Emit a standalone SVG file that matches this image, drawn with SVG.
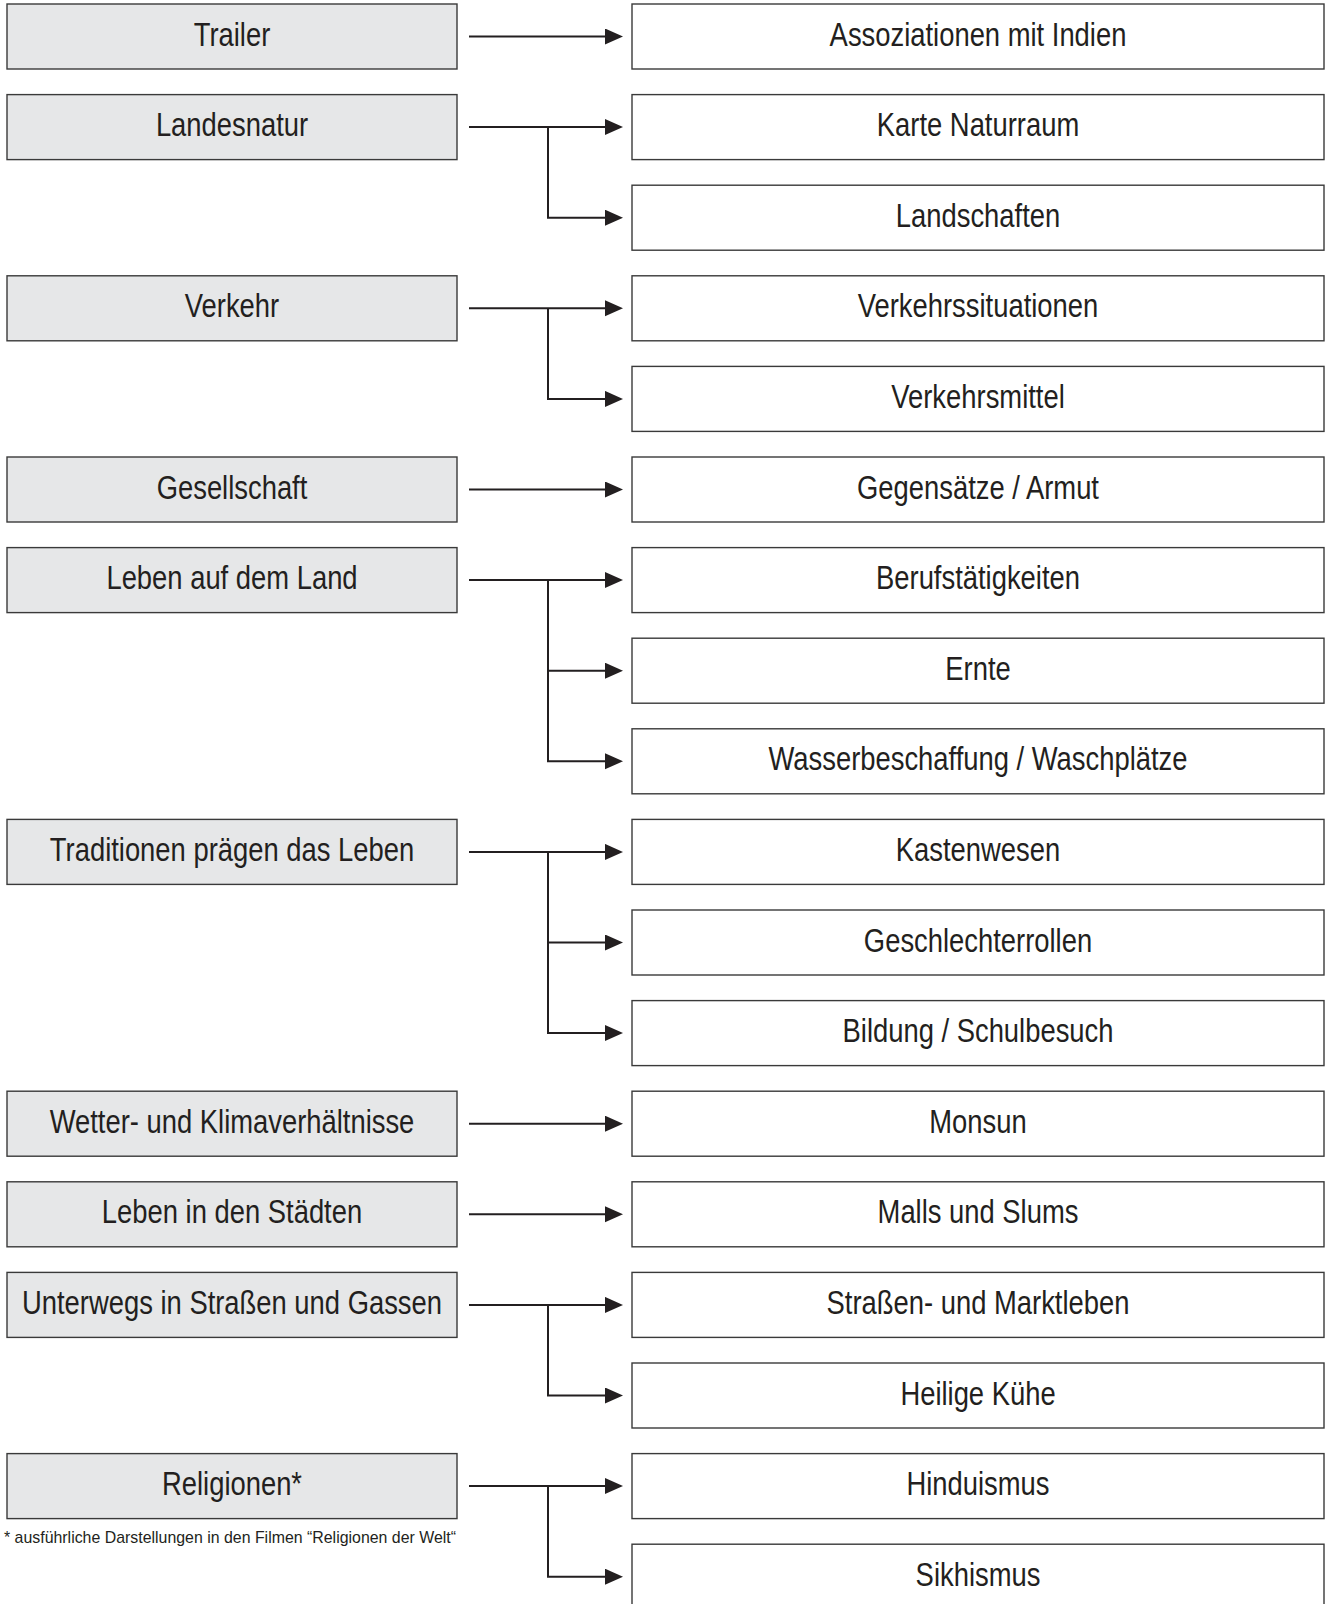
<svg xmlns="http://www.w3.org/2000/svg" width="1330" height="1604" viewBox="0 0 1330 1604">
<style>
.bg{fill:#ffffff}
.l rect{fill:#e6e7e8;stroke:#3a3a3a;stroke-width:1.4}
.r rect{fill:#ffffff;stroke:#3a3a3a;stroke-width:1.4}
text{font-family:"Liberation Sans",Arial,sans-serif;fill:#231f20}
.t{font-size:33px;text-anchor:middle}
.fn{font-size:17px}
#connectors path{fill:none;stroke:#231f20;stroke-width:2}
</style>
<defs>
<marker id="ah" markerUnits="userSpaceOnUse" markerWidth="19" markerHeight="17" refX="7" refY="8" orient="auto">
<path d="M0,0 L18,8 L0,16 Z" fill="#231f20"/>
</marker>
</defs>
<rect class="bg" x="0" y="0" width="1330" height="1604"/>

<g id="connectors">
<path d="M469,36.5 H612" marker-end="url(#ah)"/>
<path d="M469,127.1 H612" marker-end="url(#ah)"/>
<path d="M548,127.1 V217.7 H612" marker-end="url(#ah)"/>
<path d="M469,308.3 H612" marker-end="url(#ah)"/>
<path d="M548,308.3 V398.9 H612" marker-end="url(#ah)"/>
<path d="M469,489.5 H612" marker-end="url(#ah)"/>
<path d="M469,580.1 H612" marker-end="url(#ah)"/>
<path d="M548,580.1 V670.7 H612" marker-end="url(#ah)"/>
<path d="M548,670.7 V761.3 H612" marker-end="url(#ah)"/>
<path d="M469,851.9 H612" marker-end="url(#ah)"/>
<path d="M548,851.9 V942.5 H612" marker-end="url(#ah)"/>
<path d="M548,942.5 V1033.1 H612" marker-end="url(#ah)"/>
<path d="M469,1123.7 H612" marker-end="url(#ah)"/>
<path d="M469,1214.3 H612" marker-end="url(#ah)"/>
<path d="M469,1304.9 H612" marker-end="url(#ah)"/>
<path d="M548,1304.9 V1395.5 H612" marker-end="url(#ah)"/>
<path d="M469,1486.1 H612" marker-end="url(#ah)"/>
<path d="M548,1486.1 V1576.7 H612" marker-end="url(#ah)"/>
</g>

<g id="l-trailer" class="l"><rect x="7" y="4" width="450" height="65"/><text class="t" transform="translate(232 45.5) scale(0.83 1)">Trailer</text></g>
<g id="l-landesnatur" class="l"><rect x="7" y="94.6" width="450" height="65"/><text class="t" transform="translate(232 136.1) scale(0.83 1)">Landesnatur</text></g>
<g id="l-verkehr" class="l"><rect x="7" y="275.8" width="450" height="65"/><text class="t" transform="translate(232 317.3) scale(0.83 1)">Verkehr</text></g>
<g id="l-gesellschaft" class="l"><rect x="7" y="457" width="450" height="65"/><text class="t" transform="translate(232 498.5) scale(0.83 1)">Gesellschaft</text></g>
<g id="l-leben-land" class="l"><rect x="7" y="547.6" width="450" height="65"/><text class="t" transform="translate(232 589.1) scale(0.83 1)">Leben auf dem Land</text></g>
<g id="l-traditionen" class="l"><rect x="7" y="819.4" width="450" height="65"/><text class="t" transform="translate(232 860.9) scale(0.83 1)">Traditionen prägen das Leben</text></g>
<g id="l-wetter" class="l"><rect x="7" y="1091.2" width="450" height="65"/><text class="t" transform="translate(232 1132.7) scale(0.83 1)">Wetter- und Klimaverhältnisse</text></g>
<g id="l-staedte" class="l"><rect x="7" y="1181.8" width="450" height="65"/><text class="t" transform="translate(232 1223.3) scale(0.83 1)">Leben in den Städten</text></g>
<g id="l-unterwegs" class="l"><rect x="7" y="1272.4" width="450" height="65"/><text class="t" transform="translate(232 1313.9) scale(0.83 1)">Unterwegs in Straßen und Gassen</text></g>
<g id="l-religionen" class="l"><rect x="7" y="1453.6" width="450" height="65"/><text class="t" transform="translate(232 1495.1) scale(0.83 1)">Religionen*</text></g>
<g id="footnote"><text class="fn" x="4" y="1543" textLength="452" lengthAdjust="spacingAndGlyphs">* ausführliche Darstellungen in den Filmen “Religionen der Welt“</text></g>

<g id="r-assoziationen" class="r"><rect x="632" y="4" width="692" height="65"/><text class="t" transform="translate(978 45.5) scale(0.83 1)">Assoziationen mit Indien</text></g>
<g id="r-karte" class="r"><rect x="632" y="94.6" width="692" height="65"/><text class="t" transform="translate(978 136.1) scale(0.83 1)">Karte Naturraum</text></g>
<g id="r-landschaften" class="r"><rect x="632" y="185.2" width="692" height="65"/><text class="t" transform="translate(978 226.7) scale(0.83 1)">Landschaften</text></g>
<g id="r-verkehrssituationen" class="r"><rect x="632" y="275.8" width="692" height="65"/><text class="t" transform="translate(978 317.3) scale(0.83 1)">Verkehrssituationen</text></g>
<g id="r-verkehrsmittel" class="r"><rect x="632" y="366.4" width="692" height="65"/><text class="t" transform="translate(978 407.9) scale(0.83 1)">Verkehrsmittel</text></g>
<g id="r-gegensaetze" class="r"><rect x="632" y="457" width="692" height="65"/><text class="t" transform="translate(978 498.5) scale(0.83 1)">Gegensätze / Armut</text></g>
<g id="r-beruf" class="r"><rect x="632" y="547.6" width="692" height="65"/><text class="t" transform="translate(978 589.1) scale(0.83 1)">Berufstätigkeiten</text></g>
<g id="r-ernte" class="r"><rect x="632" y="638.2" width="692" height="65"/><text class="t" transform="translate(978 679.7) scale(0.83 1)">Ernte</text></g>
<g id="r-wasser" class="r"><rect x="632" y="728.8" width="692" height="65"/><text class="t" transform="translate(978 770.3) scale(0.83 1)">Wasserbeschaffung / Waschplätze</text></g>
<g id="r-kasten" class="r"><rect x="632" y="819.4" width="692" height="65"/><text class="t" transform="translate(978 860.9) scale(0.83 1)">Kastenwesen</text></g>
<g id="r-geschlecht" class="r"><rect x="632" y="910" width="692" height="65"/><text class="t" transform="translate(978 951.5) scale(0.83 1)">Geschlechterrollen</text></g>
<g id="r-bildung" class="r"><rect x="632" y="1000.6" width="692" height="65"/><text class="t" transform="translate(978 1042.1) scale(0.83 1)">Bildung / Schulbesuch</text></g>
<g id="r-monsun" class="r"><rect x="632" y="1091.2" width="692" height="65"/><text class="t" transform="translate(978 1132.7) scale(0.83 1)">Monsun</text></g>
<g id="r-malls" class="r"><rect x="632" y="1181.8" width="692" height="65"/><text class="t" transform="translate(978 1223.3) scale(0.83 1)">Malls und Slums</text></g>
<g id="r-strassen" class="r"><rect x="632" y="1272.4" width="692" height="65"/><text class="t" transform="translate(978 1313.9) scale(0.83 1)">Straßen- und Marktleben</text></g>
<g id="r-kuehe" class="r"><rect x="632" y="1363" width="692" height="65"/><text class="t" transform="translate(978 1404.5) scale(0.83 1)">Heilige Kühe</text></g>
<g id="r-hinduismus" class="r"><rect x="632" y="1453.6" width="692" height="65"/><text class="t" transform="translate(978 1495.1) scale(0.83 1)">Hinduismus</text></g>
<g id="r-sikhismus" class="r"><rect x="632" y="1544.2" width="692" height="65"/><text class="t" transform="translate(978 1585.7) scale(0.83 1)">Sikhismus</text></g>
</svg>
